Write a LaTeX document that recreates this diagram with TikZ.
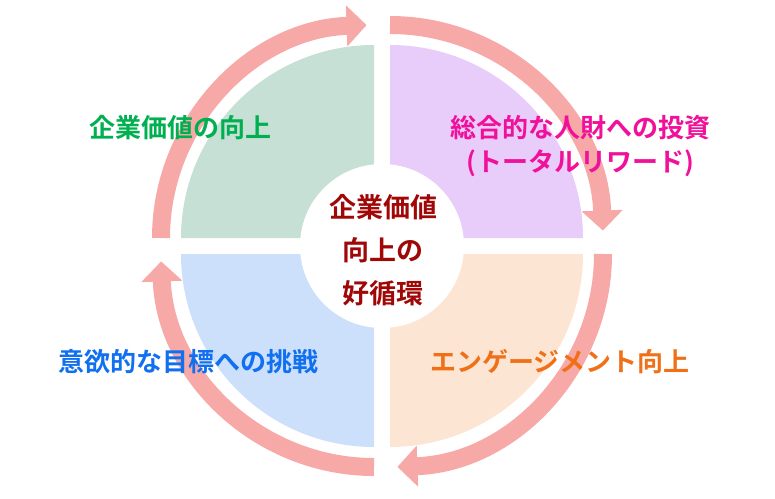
\documentclass[tikz,border=0pt]{standalone}
\usepackage{fontspec}
\newfontfamily\jp{Noto Sans CJK JP}[BoldFont={Noto Sans CJK JP Bold}]
\usetikzlibrary{arrows.meta}
\definecolor{ringc}{HTML}{F7A9A8}
\definecolor{qgreen}{HTML}{C6E0D5}
\definecolor{qpurple}{HTML}{E8CDFB}
\definecolor{qpeach}{HTML}{FDE5D4}
\definecolor{qblue}{HTML}{CCE0FC}
\definecolor{tgreen}{HTML}{00B050}
\definecolor{tpink}{HTML}{F0109A}
\definecolor{torange}{HTML}{F07018}
\definecolor{tblue}{HTML}{1070F0}
\definecolor{tred}{HTML}{A00808}
\tikzset{
  ringarrow/.style={ringc,line width=18pt,-{Triangle[width=40pt,length=20pt]}},
  label/.style={font=\jp\bfseries\fontsize{26}{34}\selectfont,align=center}
}
\begin{document}
\begin{tikzpicture}[x=1pt,y=-1pt]
\useasboundingbox (0,0) rectangle (775,498);
% quadrants
\fill[qgreen]  (374,238) -- ++(180:193) arc[start angle=180,end angle=270,radius=193] -- cycle;
\fill[qpurple] (390,238) -- ++(270:193) arc[start angle=270,end angle=360,radius=193] -- cycle;
\fill[qpeach]  (390,254) -- ++(0:193)   arc[start angle=0,end angle=90,radius=193] -- cycle;
\fill[qblue]   (374,254) -- ++(90:193)  arc[start angle=90,end angle=180,radius=193] -- cycle;
\fill[white] (382,246) circle[radius=82];
% ring
\draw[ringarrow] (374,238) ++(180:213) arc[start angle=180,end angle=268,radius=213];
\draw[ringarrow] (390,238) ++(270:213) arc[start angle=270,end angle=358,radius=213];
\draw[ringarrow] (390,254) ++(0:213)   arc[start angle=0,end angle=88,radius=213];
\draw[ringarrow] (374,254) ++(90:213)  arc[start angle=90,end angle=178,radius=213];
% labels
\node[label,text=tgreen]  (value)  at (180,128) {企業価値の向上};
\node[label,text=tpink]   (invest) at (580,146) {総合的な人財への投資\\(トータルリワード)};
\node[label,text=torange] (engage) at (560,362) {エンゲージメント向上};
\node[label,text=tblue]   (goal)   at (188,362) {意欲的な目標への挑戦};
\node[label,text=tred,font=\jp\bfseries\fontsize{27}{43}\selectfont] (core) at (383,250) {企業価値\\向上の\\好循環};
\end{tikzpicture}
\end{document}
